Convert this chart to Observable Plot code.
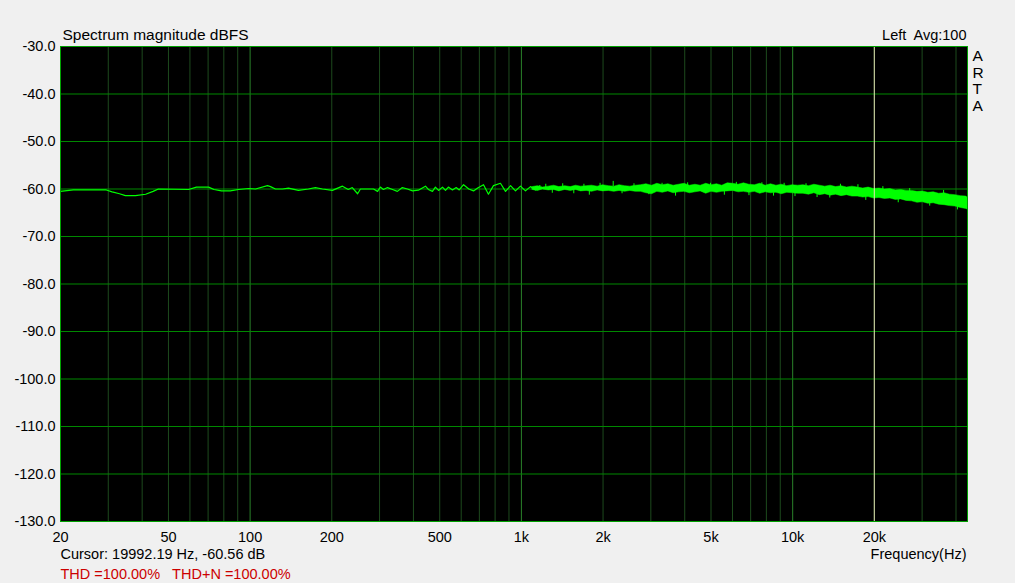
<!DOCTYPE html>
<html>
<head>
<meta charset="utf-8">
<script src="https://cdn.jsdelivr.net/npm/d3@7"></script>
<script src="https://cdn.jsdelivr.net/npm/@observablehq/plot@0.6"></script>
<style>
  html, body { margin: 0; padding: 0; background: #f0f0f0; }
  #chart svg { display: block; }
</style>
</head>
<body>
<div id="chart"></div>
<script>
// ---- texts ----
const titleText = "Spectrum magnitude dBFS";
const rightTitle = "Left\u00a0 Avg:100";
const sideText = "A\nR\nT\nA";
const cursorText = "Cursor: 19992.19 Hz, -60.56 dB";
const thdText = "THD =100.00%\u00a0\u00a0\u00a0THD+N =100.00%";
const xAxisTitle = "Frequency(Hz)";

// ---- axes ----
const xTickHz = [20, 50, 100, 200, 500, 1000, 2000, 5000, 10000, 20000];
const xTickLabels = ["20", "50", "100", "200", "500", "1k", "2k", "5k", "10k", "20k"];
const yTickDb = [-30, -40, -50, -60, -70, -80, -90, -100, -110, -120, -130];
const gridDb = [-40, -50, -60, -70, -80, -90, -100, -110, -120];
const majorGridHz = [100, 1000, 10000];
const minorGridHz = [30, 40, 50, 60, 70, 80, 90,
  200, 300, 400, 500, 600, 700, 800, 900,
  2000, 3000, 4000, 5000, 6000, 7000, 8000, 9000,
  20000, 30000, 40000];
const cursorHz = 19992.19;

// ---- spectrum, sparse low-frequency part (line) ----
const lowHz = [20, 22.3, 29.5, 31, 33, 34.7, 37.8, 41.2, 43.9, 45.9,
  59.3, 63.4, 70.3, 73.6, 78.4, 84.5, 90.6, 99, 104.7, 115.9,
  118.9, 124, 131.6, 138.5, 150.7, 164, 174, 184.8, 201, 219,
  230, 238, 249, 255, 266, 285, 295, 302, 310, 321,
  335, 349, 364, 380, 397, 417, 443, 454, 470, 482,
  495, 512, 525, 538, 557, 575, 590, 612, 640, 666,
  690, 725, 756, 789, 837, 874, 912, 951, 992, 1035,
  1080, 1127, 1170];
const lowDb = [-60.5, -60.2, -60.2, -60.6, -61.0, -61.4, -61.4, -61.1, -60.5, -60.0,
  -60.1, -59.6, -59.6, -60.1, -60.4, -60.4, -60.1, -59.9, -60.0, -59.3,
  -59.5, -60.0, -60.0, -59.8, -60.3, -60.0, -59.7, -60.0, -60.3, -59.4,
  -60.1, -59.7, -61.0, -60.0, -60.0, -60.0, -60.5, -59.6, -60.1, -59.7,
  -60.1, -60.5, -59.7, -60.0, -60.4, -60.25, -59.4, -60.1, -60.5, -59.6,
  -60.3, -59.6, -60.3, -59.6, -60.2, -59.7, -60.2, -59.1, -60.0, -60.4,
  -59.8, -59.1, -61.1, -59.3, -58.8, -60.5, -59.3, -60.4, -59.4, -60.4,
  -59.5, -60.2, -59.3];

// ---- spectrum, dense high-frequency part (noise band envelope) ----
const bandHz = [1100, 1150, 1200, 1260, 1320, 1380, 1450, 1520, 1590, 1660,
  1740, 1820, 1910, 2000, 2100, 2200, 2300, 2410, 2520, 2640,
  2760, 2890, 3030, 3170, 3320, 3480, 3640, 3810, 3990, 4180,
  4380, 4580, 4800, 5020, 5260, 5500, 5760, 6030, 6320, 6610,
  6920, 7250, 7590, 7950, 8320, 8710, 9120, 9550, 10000, 10470,
  10960, 11480, 12020, 12590, 13180, 13800, 14450, 15140, 15850, 16600,
  17380, 18200, 19050, 19950, 20890, 21880, 22910, 23990, 25120, 26300,
  27540, 28840, 30200, 31620, 33110, 34670, 36310, 38020, 39810, 41690,
  43650, 44100];
const bandHiDb = [-59.6, -59.4, -59.7, -59.5, -59.3, -59.6, -59.4, -59.6, -59.3, -59.5,
  -59.4, -59.3, -59.5, -59.2, -59.4, -59.5, -59.2, -59.4, -59.5, -59.3,
  -59.2, -59.0, -59.3, -58.9, -59.2, -59.0, -59.3, -59.1, -58.9, -59.3,
  -59.1, -59.3, -58.9, -59.2, -59.0, -59.3, -58.8, -58.9, -59.1, -58.8,
  -59.1, -59.2, -58.9, -59.3, -59.0, -59.3, -59.1, -59.4, -59.2, -59.3,
  -59.2, -59.4, -59.1, -59.3, -59.5, -59.3, -59.6, -59.4, -59.7, -59.5,
  -59.7, -59.9, -59.7, -60.0, -59.9, -60.1, -60.0, -60.3, -60.2, -60.4,
  -60.4, -60.6, -60.5, -60.8, -60.7, -61.0, -60.9, -61.2, -61.3, -61.5,
  -61.6, -61.8];
const bandLoDb = [-60.2, -60.4, -60.1, -60.3, -60.2, -60.5, -60.2, -60.4, -60.2, -60.5,
  -60.4, -60.6, -60.3, -60.5, -60.4, -60.6, -60.4, -60.6, -60.4, -60.6,
  -60.6, -60.9, -61.1, -60.6, -60.8, -60.5, -60.9, -60.7, -60.6, -60.9,
  -60.7, -60.5, -61.0, -60.6, -60.8, -60.6, -60.5, -60.4, -60.7, -60.6,
  -60.8, -60.6, -61.0, -60.7, -60.9, -60.8, -61.1, -60.8, -60.9, -61.0,
  -61.0, -61.2, -60.9, -61.3, -61.1, -61.4, -61.2, -61.5, -61.3, -61.6,
  -61.6, -61.8, -61.7, -62.0, -61.9, -62.1, -62.0, -62.3, -62.2, -62.5,
  -62.6, -62.9, -62.8, -63.1, -63.0, -63.3, -63.4, -63.6, -63.7, -64.0,
  -64.2, -64.3];

// ---- isolated spikes sticking out of the noise band ----
const spikeHz = [1230, 1300, 1420, 1560, 1700, 1780, 1950, 2180, 2350, 2600,
  2950, 3300, 3700, 4100, 4980, 5600, 6200, 6900, 7700, 8500,
  9300, 10200, 11200, 12300, 13700, 15000, 17400, 18600, 21500, 24500,
  27000, 32000, 36000, 40500];
const spikeFromDb = [-59.0, -60.0, -58.9, -60.0, -59.0, -60.0, -58.8, -58.4, -60.2, -58.9,
  -60.3, -58.8, -60.4, -58.7, -58.8, -60.5, -58.6, -60.6, -58.7, -60.8,
  -58.8, -60.8, -58.9, -61.0, -60.9, -59.0, -59.1, -61.6, -59.5, -62.1,
  -59.9, -62.8, -60.3, -63.6];
const spikeToDb = [-60.0, -60.9, -59.8, -61.0, -59.8, -61.3, -59.6, -59.5, -61.0, -59.6,
  -61.2, -59.5, -61.5, -59.4, -59.4, -61.3, -59.3, -61.4, -59.3, -61.5,
  -59.4, -61.6, -59.5, -61.8, -61.9, -59.6, -59.8, -62.4, -60.1, -62.9,
  -60.6, -63.6, -61.0, -64.4];

const low = lowHz.map((f, i) => ({f, db: lowDb[i]}));
const band = bandHz.map((f, i) => ({f, lo: bandLoDb[i], hi: bandHiDb[i]}));
const spikes = spikeHz.map((f, i) => ({f, a: spikeFromDb[i], b: spikeToDb[i]}));
const xTicks = xTickHz.map((f, i) => ({f, label: xTickLabels[i]}));

const green = "#00ff00";

const chart = Plot.plot({
  width: 1015,
  height: 583,
  marginLeft: 60,
  marginRight: 48,
  marginTop: 46,
  marginBottom: 62,
  style: {
    background: "#f0f0f0",
    fontFamily: "'Liberation Sans', Arial, sans-serif",
    fontSize: "14.5px",
    color: "#000"
  },
  x: {
    type: "log",
    domain: [20, 44100],
    axis: null
  },
  y: {
    domain: [-130, -30],
    ticks: yTickDb,
    tickFormat: (d) => d.toFixed(1),
    tickSize: 0,
    tickPadding: 5,
    label: null
  },
  marks: [
    Plot.frame({fill: "black"}),
    Plot.ruleX(minorGridHz, {stroke: "#1d4a1d", strokeWidth: 1}),
    Plot.ruleX(majorGridHz, {stroke: "#2a822a", strokeWidth: 1}),
    Plot.ruleY(gridDb, {stroke: "#008800", strokeWidth: 1}),
    Plot.areaY(band, {x: "f", y1: "lo", y2: "hi", fill: green, stroke: green, strokeWidth: 0.5, clip: true}),
    Plot.ruleX(spikes, {x: "f", y1: "a", y2: "b", stroke: green, strokeWidth: 1, clip: true}),
    Plot.line(low, {x: "f", y: "db", stroke: green, strokeWidth: 1.2, clip: true}),
    Plot.ruleX([cursorHz], {stroke: "#e6e6b4", strokeWidth: 1}),
    Plot.frame({stroke: "#00a000", strokeWidth: 1}),
    Plot.text(xTicks, {x: "f", text: "label", frameAnchor: "bottom", lineAnchor: "top", dy: 10, fill: "black"}),
    Plot.text([titleText], {text: (d) => d, frameAnchor: "top-left", textAnchor: "start", lineAnchor: "middle", dx: 2, dy: -11, fill: "black", fontSize: 15.5}),
    Plot.text([rightTitle], {text: (d) => d, frameAnchor: "top-right", textAnchor: "end", lineAnchor: "middle", dx: -1, dy: -11, fill: "black"}),
    Plot.text([sideText], {text: (d) => d, frameAnchor: "top-right", textAnchor: "start", lineAnchor: "top", lineHeight: 1.07, dx: 5, dy: 3, fill: "black", fontSize: 15.5}),
    Plot.text([cursorText], {text: (d) => d, frameAnchor: "bottom-left", textAnchor: "start", lineAnchor: "middle", dx: 0, dy: 33, fill: "black"}),
    Plot.text([xAxisTitle], {text: (d) => d, frameAnchor: "bottom-right", textAnchor: "end", lineAnchor: "middle", dx: -1, dy: 33, fill: "black"}),
    Plot.text([thdText], {text: (d) => d, frameAnchor: "bottom-left", textAnchor: "start", lineAnchor: "middle", dx: 0, dy: 53, fill: "#cc0000"})
  ]
});

document.getElementById("chart").appendChild(chart);
</script>
</body>
</html>
